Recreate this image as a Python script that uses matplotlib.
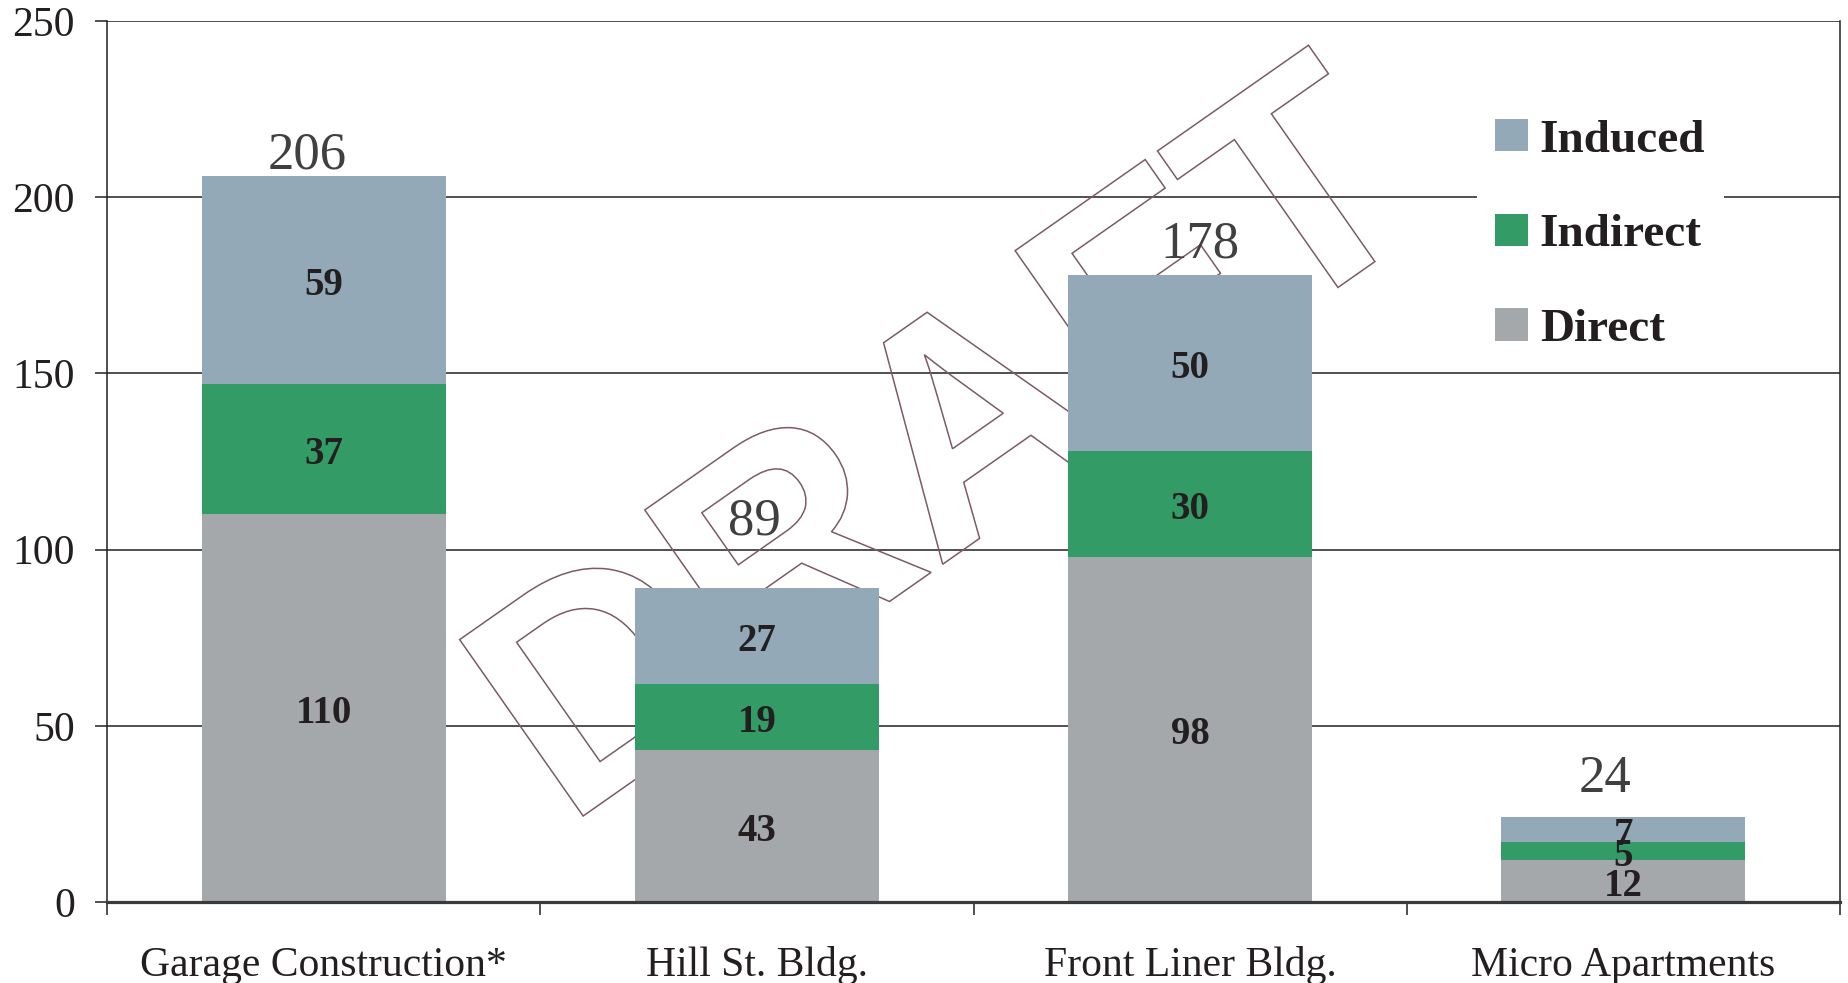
import matplotlib
matplotlib.use("Agg")
import matplotlib.pyplot as plt
import numpy as np
from matplotlib.textpath import TextPath
from matplotlib.patches import PathPatch
from matplotlib.font_manager import FontProperties
from matplotlib.transforms import Affine2D

plt.rcParams['font.family'] = ['Liberation Serif', 'DejaVu Serif']

# Jobs by project, split by effect type
projects = ['Garage Construction*', 'Hill St. Bldg.', 'Front Liner Bldg.', 'Micro Apartments']
direct = [110, 43, 98, 12]
indirect = [37, 19, 30, 5]
induced = [59, 27, 50, 7]
totals = [206, 89, 178, 24]

# where each total sits relative to the top of its bar (points)
total_dx = [-12, -2, 7, -13]
total_dy = [15, 48, 22, 28]

c_direct = '#a5a8ab'
c_indirect = '#339b66'
c_induced = '#93a9b8'
ink = '#231f20'

fig = plt.figure(figsize=(18.48, 9.83), dpi=100)
ax = fig.add_axes([0.0579, 0.0824, 0.9378, 0.8962])

x = np.arange(len(projects))
w = 0.563
direct = np.array(direct)
indirect = np.array(indirect)
induced = np.array(induced)

b1 = ax.bar(x, direct, w, color=c_direct, zorder=2, label='Direct')
b2 = ax.bar(x, indirect, w, bottom=direct, color=c_indirect, zorder=2, label='Indirect')
b3 = ax.bar(x, induced, w, bottom=direct + indirect, color=c_induced, zorder=2, label='Induced')

# segment values
for vals, base in [(direct, 0 * direct), (indirect, direct), (induced, direct + indirect)]:
    for xi, v, b in zip(x, vals, base):
        ax.annotate(str(v), (xi, b + v / 2), xytext=(0, -4), textcoords='offset points',
                    ha='center', va='center', fontsize=28, fontweight='bold',
                    color=ink, zorder=4)

# totals above the stacks
for xi, t, dx, dy in zip(x, totals, total_dx, total_dy):
    ax.annotate(str(t), (xi, t), xytext=(dx, dy), textcoords='offset points',
                ha='center', va='center', fontsize=38, color='#404042', zorder=4)

ax.set_xlim(-0.5, len(projects) - 0.5)
ax.set_ylim(0, 250)
ax.set_yticks(np.arange(0, 251, 50))
ax.tick_params(axis='y', labelsize=30, length=9, width=1.1, pad=14, colors=ink)

# category boundaries as ticks, names centred between them
ax.set_xticks(np.arange(-0.5, len(projects), 1.0))
ax.set_xticklabels([])
ax.set_xticks(x, minor=True)
ax.set_xticklabels(projects, minor=True)
ax.tick_params(axis='x', which='major', length=9, width=1.1, direction='out', color=ink)
ax.tick_params(axis='x', which='minor', length=0, labelsize=30, pad=32, labelcolor=ink)

ax.yaxis.grid(True, color=ink, linewidth=1.1)
ax.set_axisbelow(True)
ax.spines['top'].set_visible(False)
ax.spines['left'].set_color(ink)
ax.spines['left'].set_linewidth(1.1)
ax.spines['right'].set_color(ink)
ax.spines['right'].set_linewidth(1.1)
ax.spines['bottom'].set_color('#3a3a3a')
ax.spines['bottom'].set_linewidth(2.3)
ax.spines['bottom'].set_zorder(3)

# outlined DRAFT watermark, behind the bars
tp = TextPath((0, 0), 'DRAFT', size=3.13,
              prop=FontProperties(family='Liberation Sans', weight='bold'))
wm_tr = Affine2D().rotate_deg(35).translate(5.66, 1.55) + fig.dpi_scale_trans
ax.add_patch(PathPatch(tp, transform=wm_tr, facecolor='none', edgecolor='#7d5a6a',
                       linewidth=1.1, zorder=1, clip_on=False))

leg = ax.legend(handles=[b3, b2, b1], loc='center left', bbox_to_anchor=(0.799, 0.761),
                bbox_transform=fig.transFigure, borderaxespad=0, frameon=True,
                fancybox=False, edgecolor='none', facecolor='white', framealpha=1,
                prop=FontProperties(family='Liberation Serif', weight='bold', size=34),
                handlelength=0.68, handleheight=0.68, handletextpad=0.26,
                labelspacing=1.1, borderpad=0.4)
leg.set_zorder(3)
for t in leg.get_texts():
    t.set_color(ink)

fig.savefig('out.png', dpi=100)
